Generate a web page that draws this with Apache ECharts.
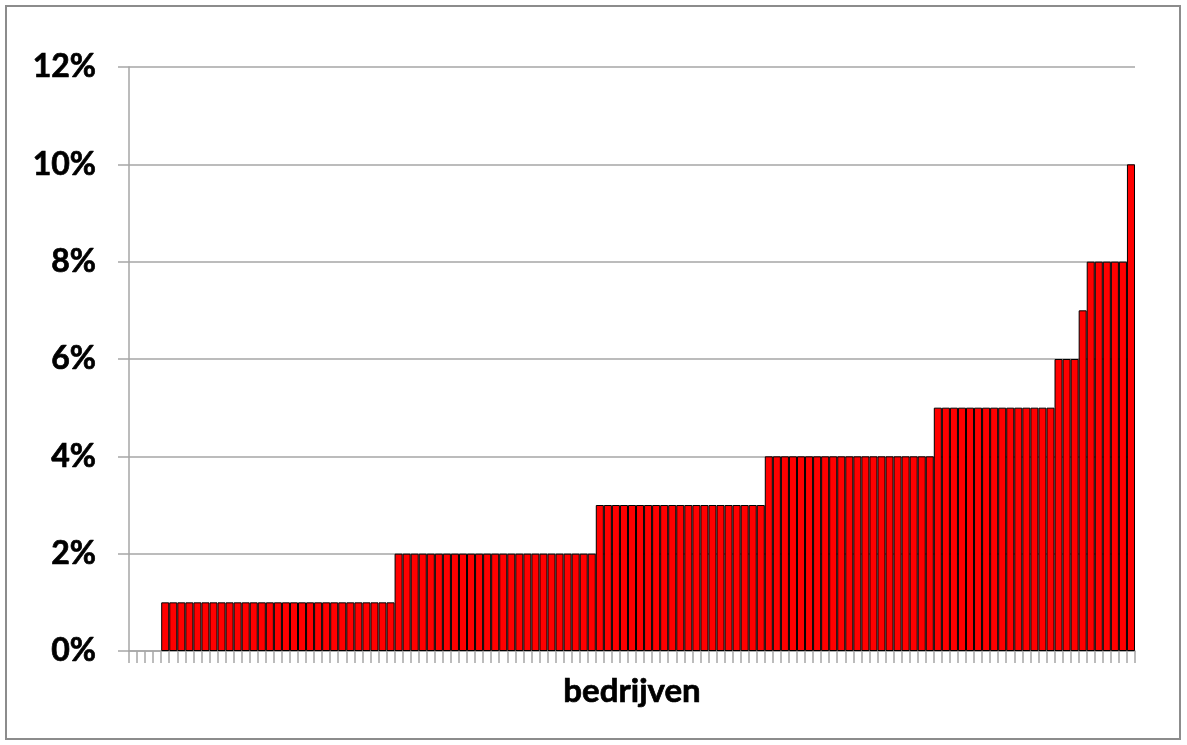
<!DOCTYPE html>
<html>
<head>
<meta charset="utf-8">
<script src="https://cdn.jsdelivr.net/npm/echarts@6/dist/echarts.min.js"></script>
<style>
  html, body { margin: 0; padding: 0; background: #fff; }
  #frame { position: absolute; left: 5px; top: 5px; width: 1176px; height: 735px;
           border: 2px solid #8c8c8c; box-sizing: border-box; }
  #chart { position: absolute; left: 0; top: 0; width: 1187px; height: 745px; }
</style>
</head>
<body>
<div id="frame"></div>
<div id="chart"></div>
<script>
// Percentage per company, sorted ascending
const levels = [0, 1, 2, 3, 4, 5, 6, 7, 8, 10];
const counts = [4, 29, 25, 21, 21, 15, 3, 1, 5, 1];
const values = [];
levels.forEach((lv, i) => { for (let k = 0; k < counts[i]; k++) values.push(lv); });
const categories = values.map((_, i) => String(i + 1));
const yTicks = [0, 2, 4, 6, 8, 10, 12];

const boldText = {
  fontFamily: 'Lato', fontWeight: 'bold', color: '#000',
  textBorderColor: '#000', textBorderWidth: 0.7
};

const chart = echarts.init(document.getElementById('chart'));
chart.setOption({
  animation: false,
  grid: { left: 129, right: 52, top: 67, bottom: 94, containLabel: false },
  xAxis: {
    type: 'category',
    data: categories,
    name: 'bedrijven',
    nameLocation: 'middle',
    nameGap: 24,
    nameTextStyle: Object.assign({ fontSize: 33 }, boldText),
    axisLine: { lineStyle: { color: '#a6a6a6', width: 1.5 } },
    axisTick: { show: true, interval: 0, length: 12, alignWithLabel: false,
                lineStyle: { color: '#a6a6a6', width: 1.5 } },
    axisLabel: { show: false },
    splitLine: { show: false }
  },
  yAxis: {
    type: 'value',
    min: yTicks[0],
    max: yTicks[yTicks.length - 1],
    interval: 2,
    axisLine: { show: true, lineStyle: { color: '#a6a6a6', width: 1.5 } },
    axisTick: { show: true, length: 11, lineStyle: { color: '#a6a6a6', width: 1.5 } },
    axisLabel: Object.assign({ formatter: '{value}%', margin: 33, fontSize: 32 }, boldText),
    splitLine: { lineStyle: { color: '#a6a6a6', width: 1.5 } }
  },
  series: [{
    type: 'bar',
    data: values.map(v => v === 0 ? { value: 0, itemStyle: { borderWidth: 0 } } : v),
    barCategoryGap: '0%',
    itemStyle: { color: '#ff0000', borderColor: '#000', borderWidth: 1 }
  }]
});
</script>
</body>
</html>
